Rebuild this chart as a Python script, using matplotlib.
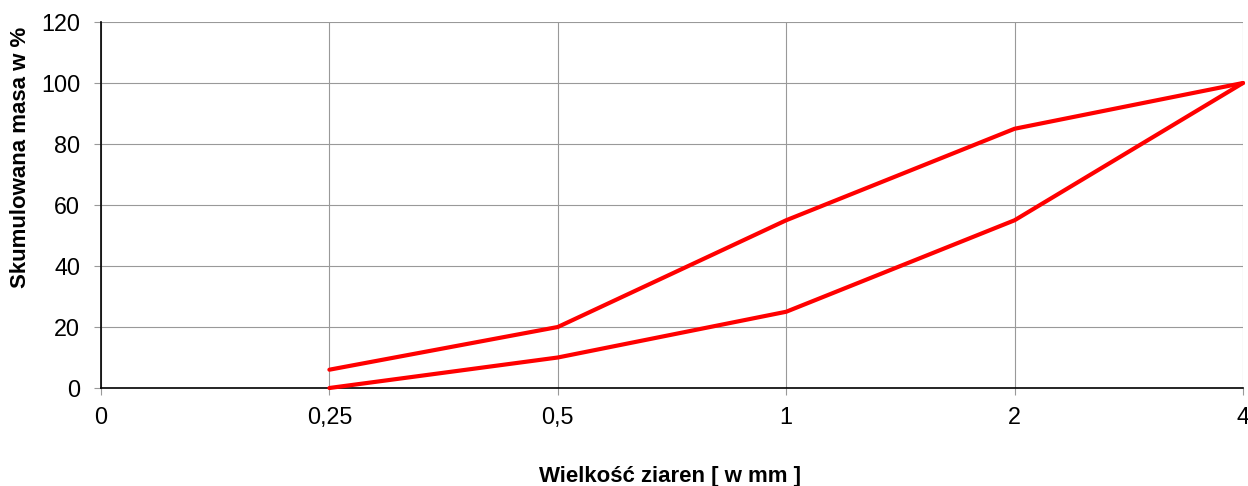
import matplotlib
matplotlib.use("Agg")
import matplotlib.pyplot as plt

tick_labels = ["0", "0,25", "0,5", "1", "2", "4"]
upper = [6, 20, 55, 85, 100]
lower = [0, 10, 25, 55, 100]
series_x = [1, 2, 3, 4, 5]

plt.rcParams['font.family'] = ['Liberation Sans', 'DejaVu Sans']

W, H = 1248, 486
fig = plt.figure(figsize=(W/100, H/100), dpi=100)
ax = fig.add_axes([101/W, 1 - 388/H, (1243-101)/W, (388-22)/H])

ax.plot(series_x, upper, color='#FF0000', lw=3, solid_joinstyle='round', solid_capstyle='round', zorder=3, clip_on=False)
ax.plot(series_x, lower, color='#FF0000', lw=3, solid_joinstyle='round', solid_capstyle='round', zorder=3, clip_on=False)

ax.set_xlim(0, 5)
ax.set_ylim(0, 120)
ax.set_xticks(range(len(tick_labels)))
ax.set_xticklabels(tick_labels)
ax.set_yticks(range(0, 121, 20))
ax.grid(True, color='#999999', lw=0.8)
ax.set_axisbelow(True)
for s in ['top', 'right']:
    ax.spines[s].set_visible(False)
for s in ['left', 'bottom']:
    ax.spines[s].set_color('black')
    ax.spines[s].set_linewidth(1.2)
ax.tick_params(axis='both', colors='#999999', labelcolor='black', length=5, width=0.8, labelsize=16.8)
ax.tick_params(axis='y', pad=10)
ax.tick_params(axis='x', pad=8)

fig.text(670/W, 1 - 482/H, "Wielkość ziaren [ w mm ]", fontsize=16, fontweight='bold',
         ha='center', va='baseline')
fig.text(21/W, 1 - 157.5/H, "Skumulowana masa w %", fontsize=16, fontweight='bold',
         ha='center', va='center', rotation=90)

fig.savefig("out.png", dpi=100)
